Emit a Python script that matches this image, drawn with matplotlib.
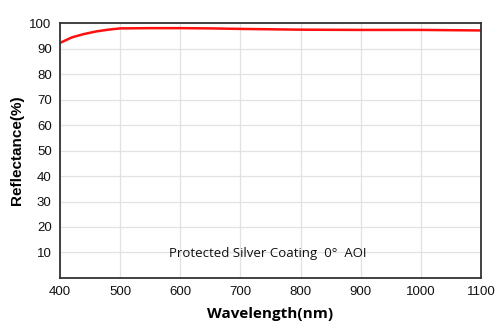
import matplotlib
matplotlib.use("Agg")
import matplotlib.pyplot as plt

wavelength = [400, 420, 440, 460, 480, 500, 550, 600, 650, 700, 800, 900, 1000, 1100]
reflectance = [92.2, 94.4, 95.7, 96.7, 97.4, 97.9, 98.0, 98.0, 97.9, 97.7, 97.4, 97.3, 97.3, 97.1]
xticks = [400, 500, 600, 700, 800, 900, 1000, 1100]
yticks = [10, 20, 30, 40, 50, 60, 70, 80, 90, 100]

fig = plt.figure(figsize=(5, 3.34), dpi=100)
ax = fig.add_axes([0.12, 0.1677, 0.842, 0.7633])
ax.plot(wavelength, reflectance, color="#ff1010", lw=1.8, solid_capstyle="butt")
ax.set_xlim(400, 1100)
ax.set_ylim(0, 100)
ax.set_xticks(xticks)
ax.set_yticks(yticks)
ax.grid(True, color="#e2e2e2", lw=0.9)
ax.set_axisbelow(True)
for s in ax.spines.values():
    s.set_color("#333333")
    s.set_linewidth(1.3)
ax.tick_params(length=0, pad=6, labelsize=9.5, colors="#111111")
for lab in ax.get_xticklabels() + ax.get_yticklabels():
    lab.set_family("Liberation Sans")
ax.set_ylabel("Reflectance(%)", fontsize=11, fontweight="bold", family="Liberation Sans", labelpad=4)
ax.set_xlabel("Wavelength(nm)", fontsize=11, fontweight="bold", family="Open Sans", labelpad=6)
ax.text(745, 9.6, "Protected Silver Coating  0°  AOI", ha="center", va="center",
        fontsize=9.5, family="Open Sans", color="#111111")
fig.savefig("out.png", dpi=100)
